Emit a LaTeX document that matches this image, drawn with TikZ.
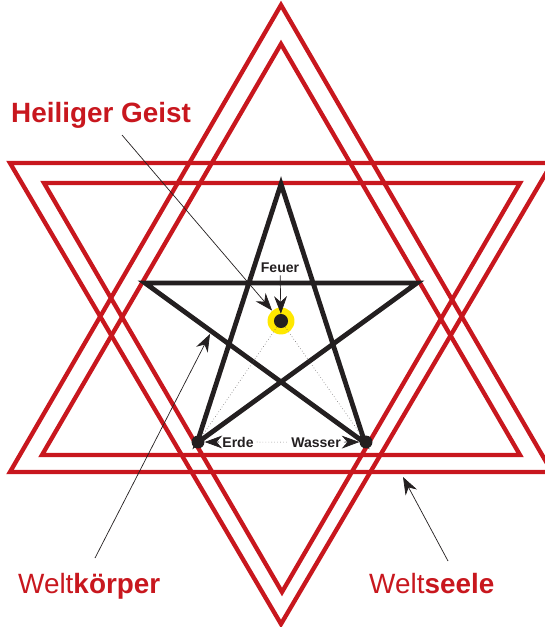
\documentclass[tikz,border=0pt]{standalone}
\usepackage{fontspec}
\setmainfont{Liberation Sans}
\usetikzlibrary{arrows.meta}
\definecolor{sternrot}{HTML}{C8171E}
\definecolor{gelb}{HTML}{FFE800}
\definecolor{tinte}{HTML}{231F20}

\begin{document}
\begin{tikzpicture}[
  x=0.03cm, y=-0.03cm,
  rot/.style={draw=sternrot, line width=3.7pt},
  penta/.style={draw=tinte, line width=4.1pt},
  punkt/.style={circle, fill=tinte, inner sep=0pt, minimum size=11pt},
  gross/.style={text=sternrot, font=\fontsize{23.8}{26}\selectfont,
                inner sep=0pt},
  klein/.style={text=tinte, font=\fontsize{12}{14}\selectfont\bfseries,
                inner sep=2.5pt},
  arr/.style={-{Stealth[length=15pt, width=11pt]}, line width=0.6pt, draw=tinte},
  punktiert/.style={draw=tinte!70, dotted, line width=0.5pt},
]
\useasboundingbox (0,0) rectangle (545,627);
\clip (0,0) rectangle (545,627);

% ---- two hexagram triangles, each doubled ----
\draw[rot] (281,5) -- (552,472) -- (10,472) -- cycle;
\draw[rot] (281,44) -- (520,455) -- (42,455) -- cycle;
\draw[rot] (10,163) -- (552,163) -- (281,624) -- cycle;
\draw[rot] (44,183) -- (520,183) -- (282,592) -- cycle;

% ---- pentagram ----
\draw[penta] (281,184) -- (365,443) -- (145,283) -- (417,283)
  -- (197,443) -- cycle;

% ---- elements ----
\node[circle, fill=gelb, inner sep=0pt, minimum size=23pt] (geist) at (281,321) {};
\node[punkt, minimum size=12pt] (feuerpkt) at (281,321) {};
\node[punkt] (erdepkt) at (198,442) {};
\node[punkt] (wasserpkt) at (366,442) {};

\node[klein, anchor=base] (feuer) at (280,272) {Feuer};
\node[klein, anchor=base] (erde) at (238,447) {Erde};
\node[klein, anchor=base] (wasser) at (316,447) {Wasser};

\draw[punktiert] (feuerpkt) -- (erdepkt);
\draw[punktiert] (feuerpkt) -- (wasserpkt);
\draw[punktiert] (erde) -- (wasser);
\draw[arr] (feuer) -- (feuerpkt);
\draw[arr] (erde) -- (erdepkt);
\draw[arr] (wasser) -- (wasserpkt);

% ---- outer labels ----
\node[gross, anchor=base west] (hg) at (11,123) {\bfseries Heiliger Geist};
\node[gross, anchor=base west] (wk) at (18,593) {Welt\textbf{körper}};
\node[gross, anchor=base west] (ws) at (369,593) {Welt\textbf{seele}};

\coordinate (hg-fuss) at (122,135);
\coordinate (wk-fuss) at (95,558);
\coordinate (wk-ziel) at (210,334);
\coordinate (ws-fuss) at (448,561);
\coordinate (ws-ziel) at (403,477);

\draw[arr] (hg-fuss) -- (geist);
\draw[arr] (wk-fuss) -- (wk-ziel);
\draw[arr] (ws-fuss) -- (ws-ziel);
\end{tikzpicture}
\end{document}
